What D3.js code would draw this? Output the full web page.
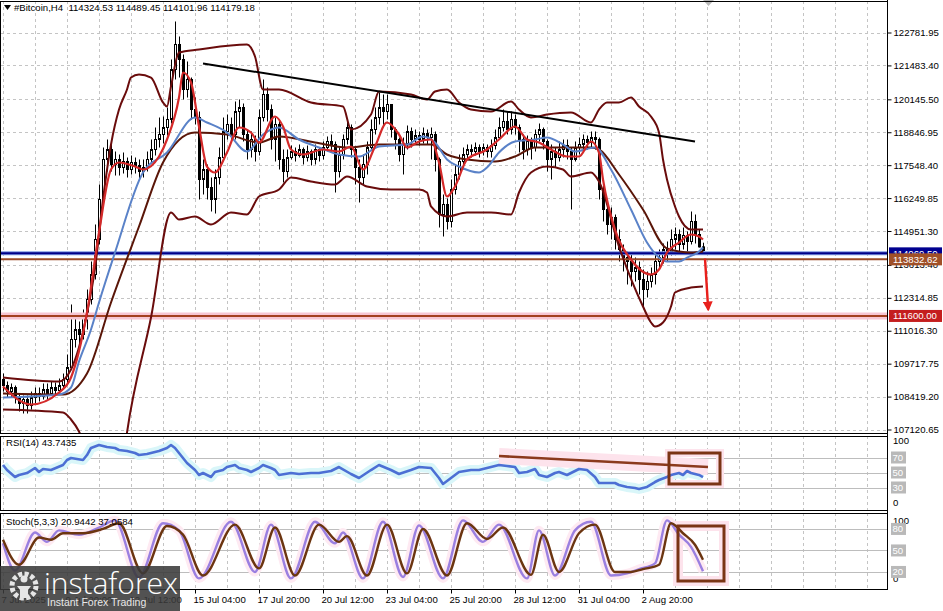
<!DOCTYPE html>
<html><head><meta charset="utf-8">
<script src="https://cdn.jsdelivr.net/npm/d3@7"></script>
<style>
body{margin:0;background:#fff;}
svg{display:block;font-family:"Liberation Sans",Arial,sans-serif;}
</style></head><body>
<svg id="c" width="943" height="611"></svg>
<script>
// ---------- DATA ----------
const symbolTitle = "#Bitcoin,H4";
const lastOHLC = [114324.53, 114489.45, 114101.96, 114179.18];
const firstOpen = 109093;
const closes = [108856,108619,108777,108382,108146,108304,108067,108382,108540,108422,108698,108540,108777,108659,108856,109093,109566,110671,111065,110868,111538,112249,113235,114616,116194,117772,118166,117575,117772,117456,117693,117377,117654,117535,117298,117456,117772,118166,118561,118758,119034,119350,121322,122309,121717,120533,120928,119744,119428,116983,117377,116667,116194,117061,117850,118876,119153,118758,119665,119823,118758,118166,118561,118087,119428,120336,119744,118561,119153,117772,117298,117850,118087,117929,118166,117850,118087,117772,118166,117929,118245,118482,118364,117298,117969,118561,119034,118166,117456,117061,117575,118245,118955,119428,119823,119665,119942,118955,118561,117969,118364,118876,118561,118718,118561,118797,118639,118758,117772,115602,115997,115326,116588,117180,117693,117969,118166,118087,118245,118087,118245,118087,118324,118639,119034,119271,118955,119350,119034,118561,118166,118482,118245,118758,118955,118482,117772,118087,117850,118166,118324,118087,117772,118245,118364,118561,118443,118639,118561,116588,115799,115208,115483,114616,114221,113905,113748,113353,113511,113038,112643,112959,113235,113748,113905,114221,114142,114616,114813,114419,114774,114537,115326,114813,114324.53,114179.18];
const highs = [109329,109014,108935,108856,108540,108461,108461,108619,108777,108777,108935,108935,109014,108975,109132,109329,110079,112052,111538,111381,111854,112643,113748,115208,116786,118245,118561,118443,118087,117969,118048,117850,117929,117850,117772,117772,118087,118561,119034,119428,119468,119823,121717,123216,122624,121914,121638,121006,120217,119665,117772,117575,117061,117377,118245,119428,119547,119428,120060,120139,119981,118955,118876,118718,119744,120928,120612,119942,119428,119350,118166,118166,118324,118245,118364,118245,118324,118166,118364,118245,118482,118679,118758,118482,118245,118758,119271,119153,118245,117772,117969,118482,119350,119823,120415,120336,120336,119942,119034,118639,118639,119113,119034,118955,118876,119034,118955,119034,118876,117850,116391,116233,116983,117575,117969,118245,118364,118364,118443,118364,118403,118364,118561,118955,119428,119744,119665,119665,119547,119153,118758,118718,118639,118955,119192,119034,118561,118364,118245,118482,118561,118561,118245,118482,118639,118758,118718,118876,118876,118639,116983,115997,115878,115602,115010,114419,114142,114024,113905,113748,113432,113353,113511,114024,114221,114458,114537,115010,115089,115010,115089,114931,115720,115602,115010,114489.45];
const lows = [108619,108382,108382,108146,107830,107751,107751,107909,108146,108225,108304,108304,108461,108461,108540,108698,108935,109487,110355,110474,110671,111065,112052,113038,114419,115997,117298,117298,117140,117140,117219,117061,117180,117219,116983,117061,117298,117614,117929,118245,118403,118718,119192,120928,121006,120139,120217,119350,119153,116194,116391,116194,115720,115641,116786,117693,118561,118482,118561,119034,118482,117772,117850,117693,117929,119271,119271,118166,117693,117377,116865,117061,117772,117693,117850,117575,117693,117535,117575,117693,117772,118087,118087,116470,117061,117772,118364,117850,116786,116076,116786,117180,118166,118758,119153,119034,119350,118639,118166,117693,117180,118166,118245,118364,118324,118403,118364,117772,117298,115089,114734,115010,115089,116391,116983,117377,117772,117850,117929,117850,117929,117850,117850,118166,118561,118876,118758,118758,118758,118048,117772,117929,117772,118087,118482,118166,117298,116983,117456,117693,117850,117772,115799,117693,117969,118166,118166,118245,118166,116194,115326,114813,114616,114221,113748,113353,112841,112762,112959,112446,111972,112328,112722,112841,113511,113669,113748,113984,114221,114142,114221,114142,114419,114458,114300,114101.96];

// indicator lines: [bar, price]
const bbUpper = [[0,109171],[14,109014],[17,109487],[21,111696],[23,113472],[25,116194],[27,118364],[29,119744],[31,120533],[32,121006],[34,121125],[37,121006],[40,120021],[41,119863],[42,120652],[44,121993],[49,122111],[61,122309],[63,121835],[65,120533],[69,120533],[77,120021],[85,119863],[87,118955],[92,119547],[94,120454],[102,120336],[106,120139],[108,120454],[111,120533],[114,120021],[117,119744],[122,119665],[127,120060],[129,119744],[132,119428],[136,119547],[142,119626],[147,119232],[149,119744],[151,120021],[154,120021],[157,120217],[159,119863],[162,119468],[164,118837],[165,117772],[166,116983],[168,115918],[169,115523],[172,115010],[175,115010]];
const bbMiddle = [[0,108540],[15,108501],[21,109329],[27,112131],[34,115129],[40,117654],[48,118837],[56,118758],[64,118443],[69,118679],[78,118443],[86,118245],[94,118364],[107,118364],[111,117969],[116,117772],[123,117693],[128,117890],[133,118245],[139,118245],[147,118245],[149,118166],[154,117180],[160,115799],[166,114261],[172,114103],[175,114142]];
const bbLower = [[0,107909],[15,107791],[17,107515],[19,107041],[21,106252],[25,104951],[28,105226],[30,105858],[31,107001],[37,111538],[42,115681],[44,115405],[48,115523],[52,115208],[57,115681],[61,115602],[64,116312],[69,116588],[72,117061],[77,116904],[83,116786],[86,117101],[91,116707],[97,116588],[104,116588],[106,116470],[107,115918],[111,115523],[116,115681],[122,115681],[127,115602],[129,116470],[132,117259],[136,117495],[140,117377],[142,117101],[147,117259],[149,116904],[154,114340],[160,111972],[162,111341],[163,111183],[165,111341],[167,111972],[168,112525],[172,112722],[175,112762]];
const maFast = [[0,108817],[7,108107],[14,108580],[17,109171],[21,111736],[24,114892],[27,117377],[29,117654],[33,117495],[35,117377],[39,117890],[41,118561],[44,120217],[45,121204],[47,120810],[49,119074],[51,117495],[53,117259],[56,118048],[59,119034],[62,118837],[64,118443],[68,119468],[70,119074],[72,118166],[75,117969],[80,118166],[84,118087],[87,118285],[90,117377],[93,118285],[96,119232],[99,118758],[101,118245],[104,118482],[107,118561],[109,117654],[111,116312],[113,116707],[116,117772],[121,118166],[124,118561],[128,119074],[131,118561],[134,118443],[137,118166],[141,117890],[144,117890],[147,118482],[149,118048],[150,116983],[153,115010],[157,113827],[162,113235],[164,113432],[166,114103],[169,114497],[172,114813],[174,114734],[175,114616]];
const maSlow = [[0,108382],[14,108501],[17,108777],[19,109803],[22,111065],[24,112131],[28,114103],[35,117259],[41,118048],[48,119428],[51,119232],[56,118837],[61,118087],[65,118758],[69,119034],[74,118561],[79,118245],[84,117969],[89,117890],[94,118285],[101,118364],[105,118679],[108,118443],[111,117772],[114,117495],[119,117259],[121,117456],[124,118048],[128,118482],[133,118561],[136,118639],[140,118364],[143,118087],[148,118245],[152,117377],[157,115799],[161,114497],[164,113905],[166,113748],[169,113748],[171,113905],[174,114142],[175,114300]];
const trendMain = [[50,121559],[173,118482]];
const arrowMain = [[175.5,113866],[176.3,111854]];
const levelBlue = 114069.50, levelBrown = 113832.62, levelRed = 111600.00;
const priceTicks = [122781.95,121483.40,120145.50,118846.95,117548.40,116249.85,114951.30,113613.40,112314.85,111016.30,109717.75,108419.20,107120.65];
const timeTickBars = [0,16,32,48,64,80,96,112,128,144,160];
const timeTickLabels = ["7 Jul 2025","9 Jul 20:00","12 Jul 12:00","15 Jul 04:00","17 Jul 20:00","20 Jul 12:00","23 Jul 04:00","25 Jul 20:00","28 Jul 12:00","31 Jul 04:00","2 Aug 20:00"];

const rsiLabel = "RSI(14) 43.7435";
const rsiLevels = [70,50,30];
const rsiPts = [[0,60],[1,53.3],[3,44],[4,46.7],[6,49.3],[8,56],[9,50.7],[10,54.7],[12,53.3],[15,60],[16,66.7],[17,69.3],[20,66.7],[21,73.3],[22,82.7],[24,86.7],[26,84],[28,82.7],[29,80],[31,78.7],[33,76],[34,73.3],[36,74.7],[37,76],[39,78.7],[41,82.7],[42,86.7],[43,82.7],[45,69.3],[46,62.7],[48,53.3],[49,46.7],[50,49.3],[52,44],[53,50.7],[55,53.3],[56,57.3],[58,60],[59,56],[61,53.3],[62,50.7],[64,56],[65,60],[67,56],[68,53.3],[69,46.7],[72,49.3],[74,48],[77,49.3],[79,49.3],[82,52],[84,57.3],[87,48],[89,42.7],[92,53.3],[94,60],[97,53.3],[99,48],[102,53.3],[104,57.3],[107,56],[109,42.7],[110,34.7],[112,42.7],[114,50.7],[117,53.3],[119,53.3],[121,56],[123,58.7],[124,60],[126,58.7],[128,57.3],[129,49.3],[131,50.7],[133,54.7],[134,46.7],[136,44],[138,49.3],[139,50.7],[141,46.7],[143,52],[144,54.7],[146,53.3],[148,44],[149,36],[151,36],[153,36],[154,33.3],[156,30.7],[158,29.3],[159,28],[161,30.7],[163,37.3],[164,40],[166,44],[167,46.7],[169,49.3],[170,46.7],[171,52],[172,49.3],[174,46.7],[175,43.7435]];
const rsiTrend = [[124,72],[176.25,57.3]];
const rsiBox = [[166.5,76],[179.25,34.7]];

const stochLabel = "Stoch(5,3,3) 20.9442 37.0584";
const stochLevels = [80,50,20];
const stochK = [[0,60],[3,22],[8,75],[11,62],[14,78],[19,72],[24,82],[28,92],[34,12],[40,88],[44,78],[49,11],[57,90],[63,20],[67,86],[72,11],[78,90],[83,60],[85,75],[90,11],[95,90],[100,13],[104,85],[110,11],[115,92],[120,62],[124,86],[131,11],[134,78],[138,15],[143,78],[147,90],[152,15],[156,18],[159,24],[163,32],[166,92],[169,72],[172,55],[175,20.9442]];
const stochD = [[0,65],[4,30],[9,68],[12,65],[15,74],[20,74],[25,80],[29,88],[35,18],[41,84],[45,72],[50,15],[58,86],[64,25],[68,82],[73,15],[79,86],[84,62],[86,70],[91,15],[96,86],[101,18],[105,80],[111,15],[116,88],[121,66],[125,82],[132,16],[135,72],[139,20],[144,74],[148,86],[153,20],[157,20],[160,24],[164,30],[167,88],[170,74],[173,58],[175,37.0584]];
const stochBox = [[168.75,84.1],[180.25,7.4]];

// ---------- LAYOUT ----------
const svg = d3.select('#c');
const RX = 887;
const P = {main:[1,433], rsi:[436,510], st:[513,589]};
const x = d3.scaleLinear().domain([0,1]).range([3,7]);
const y = d3.scaleLinear().domain([107120.65,122781.95]).range([429.5,32.5]);
const yR = d3.scaleLinear().domain([0,100]).range([510,435]);
const yS = d3.scaleLinear().domain([0,100]).range([586.3,514.6]);
const GRID = '#c4c4c4';

const defs = svg.append('defs');
[['cm',P.main],['cr',P.rsi],['cs',P.st]].forEach(([id,[t,b]])=>{
  defs.append('clipPath').attr('id',id).append('rect').attr('x',1).attr('y',t).attr('width',RX-1).attr('height',b-t);
});
defs.append('marker').attr('id','ah').attr('viewBox','0 0 10 10').attr('refX',8).attr('refY',5)
  .attr('markerWidth',4).attr('markerHeight',4).attr('orient','auto')
  .append('path').attr('d','M0,0L10,5L0,10z').attr('fill','#e8201c');

svg.append('rect').attr('width',943).attr('height',611).attr('fill','#fff');

const gridBars = d3.range(0,230,8).filter(i=>x(i)<RX);
function vgrid(g,t,b){
  g.selectAll(null).data(gridBars).join('line')
   .attr('x1',d=>x(d)+.5).attr('x2',d=>x(d)+.5).attr('y1',t).attr('y2',b)
   .attr('stroke',GRID).attr('stroke-dasharray','3,3');
}

// ---------- MAIN PANEL ----------
const gM = svg.append('g').attr('clip-path','url(#cm)');
vgrid(gM,P.main[0],P.main[1]);
gM.selectAll(null).data(priceTicks).join('line')
  .attr('x1',1).attr('x2',RX).attr('y1',d=>Math.round(y(d))+.5).attr('y2',d=>Math.round(y(d))+.5)
  .attr('stroke',GRID).attr('stroke-dasharray','3,3');

// candles
const bars = closes.map((c,i)=>({i,o:i===0?firstOpen:closes[i-1],h:highs[i],l:lows[i],c}));
gM.selectAll('.wk').data(bars).join('line')
  .attr('x1',d=>x(d.i)+.5).attr('x2',d=>x(d.i)+.5).attr('y1',d=>y(d.h)).attr('y2',d=>y(d.l))
  .attr('stroke','#000').attr('stroke-width',1);
gM.selectAll('.bd').data(bars).join('rect')
  .attr('x',d=>x(d.i)-.5).attr('width',2)
  .attr('y',d=>y(Math.max(d.o,d.c))).attr('height',d=>Math.max(1,Math.abs(y(d.o)-y(d.c))))
  .attr('fill',d=>d.c>=d.o?'#fff':'#000').attr('stroke','#000').attr('stroke-width',1);

// horizontal levels
function hline(g,v,col,w){g.append('line').attr('x1',1).attr('x2',RX).attr('y1',y(v)).attr('y2',y(v)).attr('stroke',col).attr('stroke-width',w);}
hline(gM,levelRed,'#f7c6d3',7);
hline(gM,levelRed,'#a3401f',2);
hline(gM,levelBrown,'#9a4a26',2);
hline(gM,levelBlue,'#7f98e0',4);
hline(gM,levelBlue,'#000088',2);

const lineP = d3.line().x(d=>x(d[0])).y(d=>y(d[1])).curve(d3.curveMonotoneX);
const pathOn = (g,data,gen,col,w)=>g.append('path').attr('d',gen(data)).attr('fill','none').attr('stroke',col).attr('stroke-width',w).attr('stroke-linejoin','round');
pathOn(gM,bbUpper,lineP,'#6a0c0c',2);
pathOn(gM,bbLower,lineP,'#6a0c0c',2);
pathOn(gM,bbMiddle,lineP,'#5a1608',2);
pathOn(gM,maSlow,lineP,'#5a82c8',2);
pathOn(gM,maFast,lineP,'#d42a2a',2.2);
pathOn(gM,trendMain,d3.line().x(d=>x(d[0])).y(d=>y(d[1])),'#000',2);
gM.append('line').attr('x1',x(arrowMain[0][0])).attr('y1',y(arrowMain[0][1]))
  .attr('x2',x(arrowMain[1][0])).attr('y2',y(arrowMain[1][1]))
  .attr('stroke','#e8201c').attr('stroke-width',2.5).attr('marker-end','url(#ah)');

// header
svg.append('path').attr('d','M4,5h7l-3.5,5z').attr('fill','#000');
svg.append('text').attr('x',14).attr('y',11).attr('font-size',9.6).attr('fill','#000')
  .text(symbolTitle+'\u00a0\u00a0'+lastOHLC.map(v=>v.toFixed(2)).join(' '));
svg.append('path').attr('d','M703,0h11l-5.5,6z').attr('fill','#b8b8b8');

// ---------- RSI ----------
const gR = svg.append('g').attr('clip-path','url(#cr)');
vgrid(gR,P.rsi[0],P.rsi[1]);
gR.selectAll(null).data(rsiLevels).join('line').attr('x1',1).attr('x2',RX)
  .attr('y1',d=>Math.round(yR(d))+.5).attr('y2',d=>Math.round(yR(d))+.5).attr('stroke','#bdbdbd');
const lineR = d3.line().x(d=>x(d[0])).y(d=>yR(d[1]));
pathOn(gR,rsiPts,lineR,'#d9f6f9',10);
pathOn(gR,rsiTrend,lineR,'#fde3ec',16);
gR.append('rect').attr('x',x(rsiBox[0][0])).attr('y',yR(rsiBox[0][1])).attr('width',x(rsiBox[1][0])-x(rsiBox[0][0])).attr('height',yR(rsiBox[1][1])-yR(rsiBox[0][1]))
  .attr('fill','none').attr('stroke','#fde3ec').attr('stroke-width',8);
pathOn(gR,rsiPts,lineR,'#4c6fd4',2.6);
pathOn(gR,rsiTrend,lineR,'#8b3a1c',2.6);
gR.append('rect').attr('x',x(rsiBox[0][0])).attr('y',yR(rsiBox[0][1])).attr('width',x(rsiBox[1][0])-x(rsiBox[0][0])).attr('height',yR(rsiBox[1][1])-yR(rsiBox[0][1]))
  .attr('fill','none').attr('stroke','#7a3414').attr('stroke-width',3);
svg.append('text').attr('x',6).attr('y',446).attr('font-size',9.6).text(rsiLabel);

// ---------- STOCH ----------
const gS = svg.append('g').attr('clip-path','url(#cs)');
vgrid(gS,P.st[0],P.st[1]);
gS.selectAll(null).data(stochLevels).join('line').attr('x1',1).attr('x2',RX)
  .attr('y1',d=>Math.round(yS(d))+.5).attr('y2',d=>Math.round(yS(d))+.5).attr('stroke','#bdbdbd');
const lineS = d3.line().x(d=>x(d[0])).y(d=>yS(d[1])).curve(d3.curveMonotoneX);
pathOn(gS,stochK,lineS,'#feeaf2',9);
gS.append('rect').attr('x',x(stochBox[0][0])).attr('y',yS(stochBox[0][1])).attr('width',x(stochBox[1][0])-x(stochBox[0][0])).attr('height',yS(stochBox[1][1])-yS(stochBox[0][1]))
  .attr('fill','none').attr('stroke','#fde3ec').attr('stroke-width',10);
pathOn(gS,stochK,lineS,'#9a7fe0',2.4);
pathOn(gS,stochD,lineS,'#6b3510',2.4);
gS.append('rect').attr('x',x(stochBox[0][0])).attr('y',yS(stochBox[0][1])).attr('width',x(stochBox[1][0])-x(stochBox[0][0])).attr('height',yS(stochBox[1][1])-yS(stochBox[0][1]))
  .attr('fill','none').attr('stroke','#7a3414').attr('stroke-width',3);
svg.append('text').attr('x',6).attr('y',525).attr('font-size',9.6).text(stochLabel);

// ---------- FRAMES ----------
[P.main,P.rsi,P.st].forEach(([t,b])=>{
  svg.append('rect').attr('x',.5).attr('y',t+.5).attr('width',RX).attr('height',b-t).attr('fill','none').attr('stroke','#000');
});
svg.append('line').attr('x1',RX+.5).attr('x2',RX+.5).attr('y1',0).attr('y2',590).attr('stroke','#000');

// ---------- AXES ----------
const ax = svg.append('g').attr('transform',`translate(${RX+.5},0)`)
  .call(d3.axisRight(y).tickValues(priceTicks).tickFormat(d3.format('.2f')).tickSize(4));
ax.select('.domain').remove();
ax.selectAll('text').attr('x',6).attr('font-size',9.6).attr('font-family','"Liberation Sans",Arial,sans-serif');

function boxLabel(v,fill){
  const cy=y(v);
  svg.append('rect').attr('x',RX+2).attr('y',cy-6).attr('width',53).attr('height',12).attr('fill',fill);
  svg.append('text').attr('x',RX+6).attr('y',cy+3.5).attr('font-size',9.6).attr('fill','#fff').text(v.toFixed(2));
}
boxLabel(levelBlue,'#000090');
boxLabel(levelBrown,'#a05028');
boxLabel(levelRed,'#c41e1e');

function sideLabels(sc,levels){
  svg.append('text').attr('x',RX+6).attr('y',sc(100)+9).attr('font-size',9.6).text('100');
  svg.append('text').attr('x',RX+6).attr('y',sc(0)-4).attr('font-size',9.6).text('0');
  levels.forEach(v=>{
    svg.append('rect').attr('x',RX+4).attr('y',sc(v)-6).attr('width',15).attr('height',12).attr('fill','#b9b9b9');
    svg.append('text').attr('x',RX+5.5).attr('y',sc(v)+3.5).attr('font-size',9.6).attr('fill','#fff').text(v);
  });
}
sideLabels(yR,rsiLevels);
sideLabels(yS,stochLevels);

const tx = svg.append('g').attr('transform',`translate(0,${P.st[1]+.5})`)
  .call(d3.axisBottom(x).tickValues(timeTickBars).tickFormat((d,i)=>timeTickLabels[i]).tickSize(4));
tx.select('.domain').remove();
tx.selectAll('text').attr('text-anchor','start').attr('x',-2).attr('y',6).attr('dy','0.75em').attr('font-size',9.6).attr('font-family','"Liberation Sans",Arial,sans-serif');

// ---------- LOGO ----------
const lg = svg.append('g');
lg.append('rect').attr('x',0).attr('y',566).attr('width',180).attr('height',45).attr('fill','#3a3a3a').attr('opacity',0.88);
lg.append('circle').attr('cx',24).attr('cy',586).attr('r',12).attr('fill','none').attr('stroke','#e6e6e6').attr('stroke-width',5).attr('stroke-dasharray','4,2.3');
lg.append('circle').attr('cx',24).attr('cy',579).attr('r',3.5).attr('fill','#e6e6e6');
lg.append('path').attr('d','M17,586h14l-3,4v8h-8v-8z').attr('fill','#e6e6e6');
lg.append('text').attr('x',44).attr('y',594).attr('font-size',30).attr('font-family','"Open Sans",Arial,sans-serif').attr('font-weight',300).attr('fill','#fff').attr('textLength',134).text('instaforex');
lg.append('text').attr('x',47).attr('y',606).attr('font-size',10.5).attr('fill','#e8e8e8').text('Instant Forex Trading');
</script>
</body></html>
